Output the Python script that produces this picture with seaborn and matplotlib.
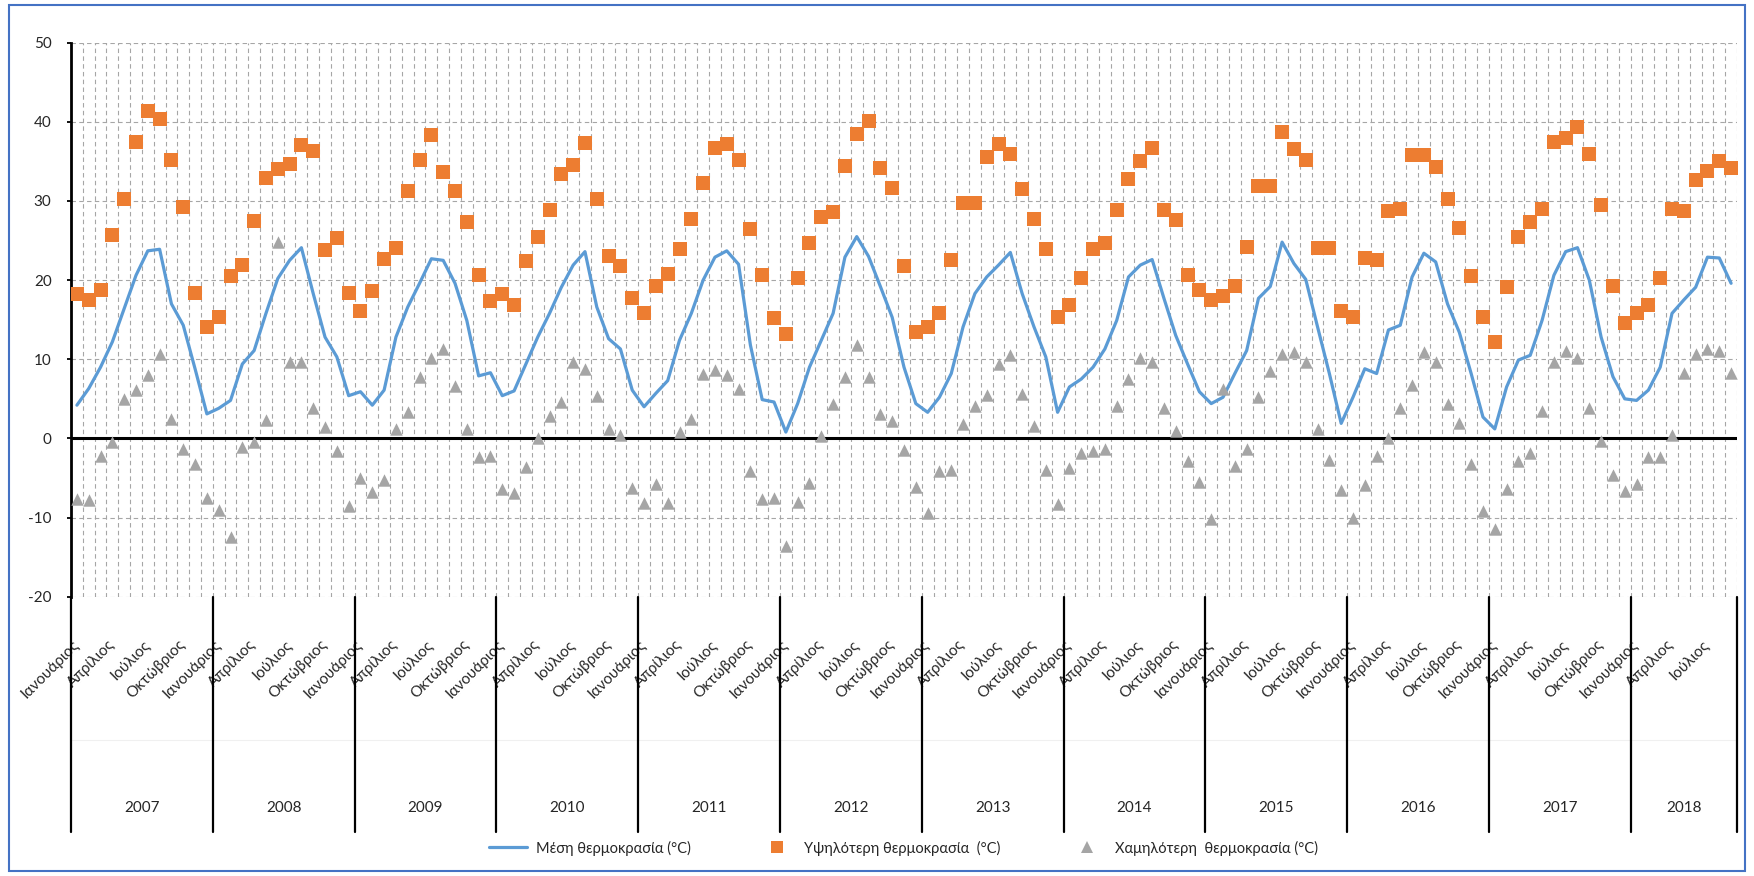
import numpy as np
import pandas as pd
import matplotlib
matplotlib.use("Agg")
import matplotlib.pyplot as plt
import matplotlib.transforms as mtransforms
from matplotlib.lines import Line2D
from matplotlib.patches import Rectangle
from matplotlib.ticker import FixedLocator
import seaborn as sns

# ---------------- data ----------------
years = ["2007", "2008", "2009", "2010", "2011", "2012",
         "2013", "2014", "2015", "2016", "2017", "2018"]
months_per_year = [12, 12, 12, 12, 12, 12, 12, 12, 12, 12, 12, 9]
month_names = ["Ιανουάριος", "Απρίλιος", "Ιούλιος", "Οκτώβριος"]  # labels on months 1, 4, 7, 10

mean_temp = [
    4.2, 6.3, 9.0, 12.2, 16.4, 20.6, 23.7, 23.9, 17.0, 14.3, 8.8, 3.1,      # 2007
    3.8, 4.8, 9.4, 11.1, 15.8, 20.2, 22.5, 24.1, 18.3, 12.8, 10.3, 5.4,     # 2008
    5.9, 4.2, 6.1, 12.8, 16.6, 19.6, 22.7, 22.5, 19.6, 14.9, 7.9, 8.3,      # 2009
    5.4, 6.0, 9.4, 12.8, 15.8, 19.1, 21.9, 23.6, 16.6, 12.6, 11.3, 6.1,     # 2010
    4.0, 5.7, 7.3, 12.4, 15.8, 20.0, 22.9, 23.7, 22.0, 11.8, 4.9, 4.6,      # 2011
    0.8, 4.4, 9.0, 12.4, 15.8, 22.9, 25.5, 23.0, 19.2, 15.3, 9.0, 4.4,      # 2012
    3.3, 5.2, 8.2, 14.1, 18.3, 20.4, 21.9, 23.5, 18.3, 14.1, 10.3, 3.3,     # 2013
    6.5, 7.5, 9.0, 11.3, 14.9, 20.4, 21.9, 22.6, 17.7, 13.0, 9.4, 5.9,      # 2014
    4.4, 5.2, 8.2, 11.1, 17.7, 19.2, 24.8, 22.1, 20.1, 14.1, 8.2, 1.9,      # 2015
    5.2, 8.8, 8.2, 13.7, 14.3, 20.4, 23.4, 22.3, 17.0, 13.4, 8.2, 2.7,      # 2016
    1.2, 6.5, 9.9, 10.5, 14.9, 20.6, 23.6, 24.1, 20.0, 12.8, 7.8, 5.0,      # 2017
    4.8, 6.1, 9.0, 15.8, 17.5, 19.1, 22.9, 22.8, 19.6,                      # 2018
]
max_temp = [
    18.2, 17.5, 18.8, 25.7, 30.3, 37.4, 41.4, 40.4, 35.2, 29.3, 18.4, 14.1,
    15.3, 20.5, 21.9, 27.5, 32.9, 34.0, 34.7, 37.1, 36.3, 23.8, 25.3, 18.4,
    16.1, 18.6, 22.7, 24.1, 31.2, 35.2, 38.4, 33.7, 31.2, 27.3, 20.6, 17.4,
    18.3, 16.8, 22.4, 25.5, 28.8, 33.4, 34.6, 37.3, 30.2, 23.0, 21.8, 17.8,
    15.8, 19.3, 20.8, 23.9, 27.7, 32.3, 36.7, 37.2, 35.2, 26.4, 20.6, 15.2,
    13.2, 20.3, 24.7, 28.0, 28.6, 34.4, 38.5, 40.1, 34.2, 31.6, 21.8, 13.4,
    14.1, 15.8, 22.6, 29.7, 29.8, 35.6, 37.2, 35.9, 31.5, 27.7, 23.9, 15.3,
    16.8, 20.3, 23.9, 24.7, 28.8, 32.8, 35.1, 36.7, 28.8, 27.6, 20.7, 18.8,
    17.5, 18.0, 19.3, 24.2, 31.9, 31.9, 38.7, 36.6, 35.2, 24.0, 24.1, 16.1,
    15.3, 22.8, 22.5, 28.7, 29.0, 35.8, 35.8, 34.3, 30.2, 26.6, 20.5, 15.3,
    12.2, 19.1, 25.4, 27.4, 29.0, 37.4, 37.9, 39.4, 35.9, 29.5, 19.3, 14.6,
    15.8, 16.9, 20.3, 29.0, 28.7, 32.7, 33.8, 35.0, 34.2,
]
min_temp = [
    -7.7, -7.8, -2.2, -0.5, 5.0, 6.1, 8.0, 10.7, 2.5, -1.3, -3.2, -7.5,
    -9.0, -12.4, -1.1, -0.5, 2.3, 24.8, 9.7, 9.7, 3.8, 1.4, -1.6, -8.5,
    -5.0, -6.8, -5.2, 1.2, 3.4, 7.8, 10.2, 11.3, 6.6, 1.2, -2.4, -2.2,
    -6.4, -6.9, -3.6, 0.0, 2.8, 4.6, 9.7, 8.8, 5.3, 1.2, 0.4, -6.3,
    -8.2, -5.7, -8.1, 0.8, 2.5, 8.1, 8.6, 8.0, 6.3, -4.1, -7.7, -7.5,
    -13.6, -8.0, -5.6, 0.3, 4.4, 7.8, 11.8, 7.7, 3.1, 2.2, -1.5, -6.1,
    -9.4, -4.1, -4.0, 1.8, 4.1, 5.5, 9.4, 10.6, 5.6, 1.6, -4.0, -8.3,
    -3.8, -1.8, -1.6, -1.4, 4.1, 7.5, 10.2, 9.7, 3.8, 0.9, -2.9, -5.5,
    -10.2, 6.3, -3.5, -1.4, 5.2, 8.5, 10.7, 10.9, 9.7, 1.2, -2.7, -6.5,
    -10.1, -5.9, -2.2, 0.0, 3.8, 6.8, 10.9, 9.7, 4.4, 1.9, -3.2, -9.2,
    -11.5, -6.4, -2.9, -1.9, 3.5, 9.7, 11.1, 10.1, 3.8, -0.3, -4.6, -6.6,
    -5.7, -2.4, -2.4, 0.4, 8.3, 10.7, 11.3, 11.0, 8.3,
]
y_ticks = [-20, -10, 0, 10, 20, 30, 40, 50]

series_names = ["Μέση θερμοκρασία (°C)",
                "Υψηλότερη θερμοκρασία  (°C)",
                "Χαμηλότερη  θερμοκρασία (°C)"]

# ---------------- table ----------------
n = len(mean_temp)
df = pd.DataFrame({"idx": np.arange(n), "mean": mean_temp,
                   "max": max_temp, "min": min_temp})

# ---------------- style ----------------
sns.set_style("white")
plt.rcParams["font.family"] = ["Lato", "DejaVu Sans"]
FS = 11
BLUE = "#5B9BD5"
ORANGE = "#ED7D31"
GREY = "#A5A5A5"
GRID = "#A6A6A6"

W, H = 1754, 876
fig = plt.figure(figsize=(W / 100, H / 100), dpi=100)
ax = fig.add_axes([71 / W, 1 - 596.7 / H, (1737 - 71) / W, (596.7 - 42.7) / H])

# series
sns.lineplot(data=df, x="idx", y="mean", ax=ax, color=BLUE, linewidth=2.3,
             zorder=4, solid_capstyle="round", solid_joinstyle="round")
sns.scatterplot(data=df, x="idx", y="max", ax=ax, marker="s", color=ORANGE,
                s=88, linewidth=0, zorder=5)
sns.scatterplot(data=df, x="idx", y="min", ax=ax, marker="^", color=GREY,
                s=80, linewidth=0, zorder=5)

ax.set_xlim(-0.5, n - 0.5)
ax.set_ylim(-20, 50)
ax.set_xlabel("")
ax.set_ylabel("")

# y axis
ax.set_yticks(y_ticks)
ax.set_yticklabels([str(v) for v in y_ticks], fontsize=FS)
ax.tick_params(axis="y", which="major", direction="out", length=3, width=1.3,
               color="black", pad=11, left=True)

# month labels (multi-level category axis, first level)
starts = np.cumsum([0] + months_per_year[:-1])
tick_pos, tick_lab = [], []
for st, nm in zip(starts, months_per_year):
    for k, name in enumerate(month_names):
        if 3 * k < nm:
            tick_pos.append(st + 3 * k)
            tick_lab.append(name)
ax.set_xticks(tick_pos)
ax.set_xticklabels(tick_lab, fontsize=FS, rotation=45, ha="right",
                   rotation_mode="anchor")
for lbl in ax.get_xticklabels():
    lbl.set_va("center")
ax.tick_params(axis="x", which="major", length=0, pad=33)

# gridlines
ax.xaxis.set_minor_locator(FixedLocator(np.arange(-0.5, n, 1.0)))
ax.tick_params(axis="x", which="minor", length=0)
ax.grid(False)
ax.grid(which="minor", axis="x", color=GRID, linestyle=(0, (4, 3)), linewidth=0.8)
ax.grid(which="major", axis="y", color=GRID, linestyle=(0, (4, 3)), linewidth=0.8)
ax.set_axisbelow(True)

for side in ["top", "right", "bottom"]:
    ax.spines[side].set_visible(False)
ax.spines["left"].set_color("black")
ax.spines["left"].set_linewidth(2.0)
ax.spines["left"].set_zorder(3)

ax.axhline(0, color="black", linewidth=2.2, zorder=3)

# second level: year separators and year labels
blend = mtransforms.blended_transform_factory(ax.transData, fig.transFigure)
y_top = 1 - 596.7 / H
y_bot = 1 - 832 / H
bounds = list(starts) + [n]
for b in bounds:
    ax.plot([b - 0.5, b - 0.5], [y_top, y_bot], transform=blend, color="black",
            linewidth=1.6, clip_on=False, zorder=3)
ax.plot([-0.5, n - 0.5], [1 - 740 / H, 1 - 740 / H], transform=blend,
        color="#F0F0F0", linewidth=0.8, clip_on=False, zorder=1)
for st, nm, yr in zip(starts, months_per_year, years):
    ax.text(st + (nm - 1) / 2, 1 - 808 / H, yr, transform=blend, ha="center",
            va="center", fontsize=FS)

# legend
handles = [
    Line2D([], [], color=BLUE, linewidth=2.3),
    Line2D([], [], color=ORANGE, marker="s", linestyle="", markersize=8.5,
           markeredgewidth=0),
    Line2D([], [], color=GREY, marker="^", linestyle="", markersize=8.5,
           markeredgewidth=0),
]
fig.legend(handles, series_names, loc="center", bbox_to_anchor=(0.515, 1 - 848 / H),
           ncol=3, frameon=False, fontsize=10.5, handlelength=2.6,
           handletextpad=0.6, columnspacing=4.6)

# chart-area border
fig.patches.append(Rectangle((9 / W, 5 / H), (1745 - 9) / W, (871 - 5) / H,
                             transform=fig.transFigure, fill=False,
                             edgecolor="#4472C4", linewidth=1.5))

fig.savefig("out.png", dpi=100)
